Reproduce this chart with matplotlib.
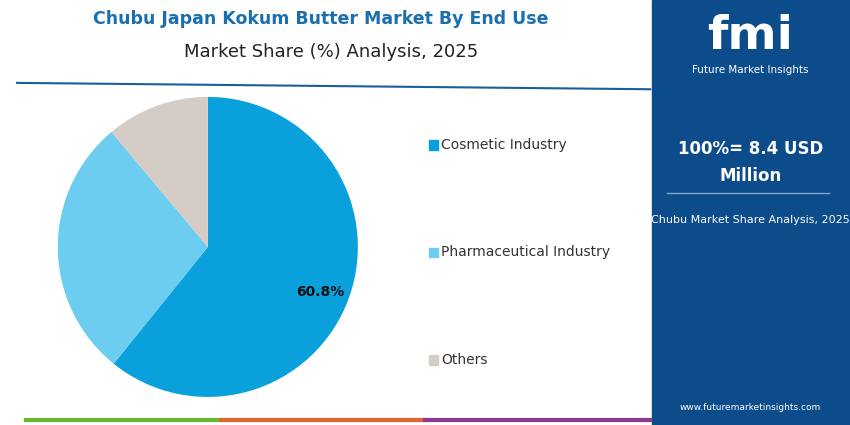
import matplotlib.pyplot as plt
from matplotlib.patches import Rectangle

categories = ["Cosmetic Industry", "Pharmaceutical Industry", "Others"]
shares = [60.8, 28.1, 11.1]
colors = ["#0aa0dc", "#6dcdf0", "#d6ccc6"]

fig = plt.figure(figsize=(8.5, 4.25), dpi=100)
fig.patch.set_facecolor("white")

# titles
fig.text(0.377, 0.955, "Chubu Japan Kokum Butter Market By End Use", ha="center", va="center",
         fontsize=12.5, fontweight="bold", color="#1a6fb0")
fig.text(0.39, 0.878, "Market Share (%) Analysis, 2025", ha="center", va="center",
         fontsize=13, color="#222222")
fig.add_artist(plt.Line2D([0.02, 0.765], [0.805, 0.79], color="#1a5f9a", lw=1.5))

# pie
ax = fig.add_axes([0.068, 0.066, 0.353, 0.706])
wedges, _ = ax.pie(shares, colors=colors, startangle=90, counterclock=False)
ax.set_xlim(-1, 1)
ax.set_ylim(-1, 1)
ax.text(0.75, -0.3, f"{shares[0]}%", ha="center", va="center", fontsize=10, fontweight="bold", color="#111111")

# legend
for i, (cat, col) in enumerate(zip(categories, colors)):
    y = 0.66 - i * 0.253
    fig.add_artist(Rectangle((0.505, y - 0.012), 0.01, 0.022, color=col, transform=fig.transFigure))
    fig.text(0.519, y, cat, va="center", fontsize=10, color="#333333")

# bottom bars
fig.add_artist(plt.Line2D([0.03, 0.26], [0.012, 0.012], color="#6ab82e", lw=3))
fig.add_artist(plt.Line2D([0.26, 0.5], [0.012, 0.012], color="#e0652a", lw=3))
fig.add_artist(plt.Line2D([0.5, 0.765], [0.012, 0.012], color="#8a3a8f", lw=3))

# right panel
fig.add_artist(Rectangle((0.767, 0.0), 0.233, 1.0, color="#0d4c8a", transform=fig.transFigure))
fig.text(0.883, 0.915, "fmi", ha="center", va="center", fontsize=34, fontweight="bold", color="white")
fig.text(0.883, 0.835, "Future Market Insights", ha="center", va="center", fontsize=7.5, color="white")
fig.text(0.883, 0.65, "100%= 8.4 USD", ha="center", va="center", fontsize=12, fontweight="bold", color="white")
fig.text(0.883, 0.585, "Million", ha="center", va="center", fontsize=12, fontweight="bold", color="white")
fig.add_artist(plt.Line2D([0.785, 0.975], [0.545, 0.545], color="#7fa6cc", lw=1))
fig.text(0.883, 0.483, "Chubu Market Share Analysis, 2025", ha="center", va="center", fontsize=8, color="white")
fig.text(0.883, 0.04, "www.futuremarketinsights.com", ha="center", va="center", fontsize=6.5, color="white")

fig.savefig("out.png", dpi=100)
